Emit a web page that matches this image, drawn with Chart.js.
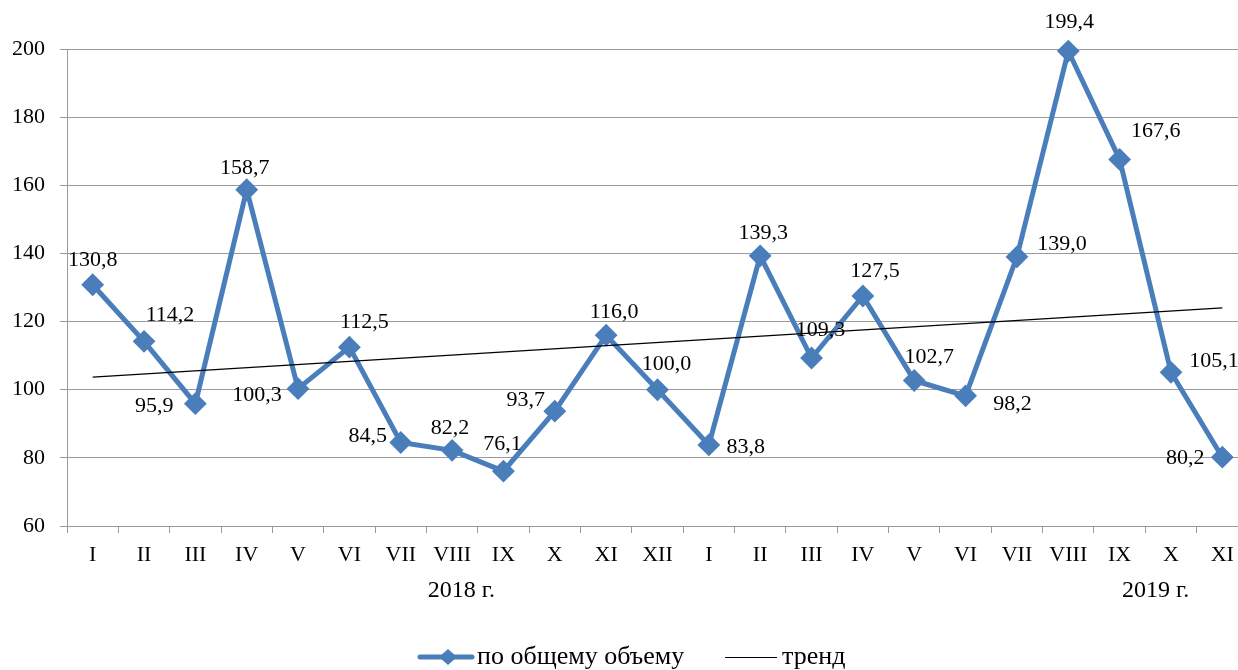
<!DOCTYPE html>
<html>
<head>
<meta charset="utf-8">
<script src="https://cdn.jsdelivr.net/npm/chart.js@4.4.1/dist/chart.umd.min.js"></script>
<style>
  html, body { margin: 0; padding: 0; background: #fff; overflow: hidden; width: 1238px; height: 670px; }
  canvas { display: block; position: absolute; left: 0; top: 0; }
</style>
</head>
<body>
<canvas id="c" width="1260" height="670"></canvas>
<script>
// ---- data ----
const categories = ['I','II','III','IV','V','VI','VII','VIII','IX','X','XI','XII',
                    'I','II','III','IV','V','VI','VII','VIII','IX','X','XI'];
const totalVolume = [130.8, 114.2, 95.9, 158.7, 100.3, 112.5, 84.5, 82.2, 76.1, 93.7, 116.0, 100.0,
                     83.8, 139.3, 109.3, 127.5, 102.7, 98.2, 139.0, 199.4, 167.6, 105.1, 80.2];
const trendEnds = [103.7, 124.0];           // trend value at first and last month
const yTicks = [60, 80, 100, 120, 140, 160, 180, 200];
const yearLabels = ['2018 г.', '2019 г.'];
const seriesNames = ['по общему объему', 'тренд'];

// ---- styling (label offsets in px, year label positions in category units) ----
const labelOffsets = [
  [0,-25],[26,-26],[-41,3],[-2,-21],[-41,7],[15,-25],[-33,-6],[-2,-22],[-1,-27],[-29,-11],[8,-23],[9,-25],
  [37,2],[3,-23],[9,-28],[12,-25],[15,-23],[47,8],[45,-13],[1,-29],[36,-28],[43,-11],[-37,1]
];
const yearLabelPos = [7.18, 20.7];

const FONT = "'Liberation Serif', 'Times New Roman', serif";
const BLUE = '#4A7EBB';
const GRID = '#9a9a9a';

const trendData = categories.map((_, i) => i === 0 ? trendEnds[0] : (i === categories.length - 1 ? trendEnds[1] : null));

const labelsPlugin = {
  id: 'valueLabels',
  afterDatasetsDraw(chart) {
    const ctx = chart.ctx;
    const meta = chart.getDatasetMeta(0);
    ctx.save();
    ctx.font = '22px ' + FONT;
    ctx.fillStyle = '#000';
    ctx.textAlign = 'center';
    ctx.textBaseline = 'middle';
    meta.data.forEach((pt, i) => {
      const txt = totalVolume[i].toFixed(1).replace('.', ',');
      ctx.fillText(txt, pt.x + labelOffsets[i][0], pt.y + labelOffsets[i][1]);
    });
    ctx.restore();
  }
};

const extrasPlugin = {
  id: 'extras',
  afterDraw(chart) {
    const ctx = chart.ctx;
    const xs = chart.scales.x;
    ctx.save();
    ctx.font = '24px ' + FONT;
    ctx.fillStyle = '#000';
    ctx.textAlign = 'center';
    ctx.textBaseline = 'middle';
    yearLabels.forEach((t, k) => {
      ctx.fillText(t, xs.getPixelForValue(yearLabelPos[k]), 591);
    });
    // legend
    const ly = 657;
    ctx.strokeStyle = BLUE; ctx.lineWidth = 5; ctx.lineCap = 'round';
    ctx.beginPath(); ctx.moveTo(420, ly); ctx.lineTo(472, ly); ctx.stroke();
    ctx.fillStyle = BLUE;
    ctx.beginPath();
    ctx.moveTo(448, ly - 8); ctx.lineTo(457, ly); ctx.lineTo(448, ly + 8); ctx.lineTo(439, ly);
    ctx.closePath(); ctx.fill();
    ctx.fillStyle = '#000';
    ctx.textAlign = 'left';
    ctx.font = '26px ' + FONT;
    ctx.fillText(seriesNames[0], 477, ly);
    ctx.strokeStyle = '#000'; ctx.lineWidth = 1; ctx.lineCap = 'butt';
    ctx.beginPath(); ctx.moveTo(725, ly + 0.5); ctx.lineTo(777, ly + 0.5); ctx.stroke();
    ctx.fillText(seriesNames[1], 782, ly);
    ctx.restore();
  }
};

new Chart(document.getElementById('c'), {
  type: 'line',
  data: {
    labels: categories,
    datasets: [
      {
        label: seriesNames[0],
        data: totalVolume,
        borderColor: BLUE,
        backgroundColor: BLUE,
        borderWidth: 5,
        pointStyle: 'rectRot',
        pointRadius: 10,
        pointBorderWidth: 2,
        pointBackgroundColor: BLUE,
        pointBorderColor: BLUE,
        tension: 0,
        clip: false,
        order: 2
      },
      {
        label: seriesNames[1],
        data: trendData,
        borderColor: '#000',
        borderWidth: 1.2,
        pointRadius: 0,
        spanGaps: true,
        clip: false,
        order: 1
      }
    ]
  },
  options: {
    responsive: false,
    animation: false,
    devicePixelRatio: 1,
    layout: { padding: { top: 49, right: 1.6, left: 0, bottom: 0 } },
    plugins: { legend: { display: false }, tooltip: { enabled: false } },
    scales: {
      x: {
        offset: true,
        afterFit(s) { s.height = 144; },
        grid: { offset: true, drawOnChartArea: false, drawTicks: true, tickLength: 7, color: GRID, lineWidth: 1 },
        border: { color: GRID, width: 1 },
        ticks: { font: { family: FONT, size: 22 }, color: '#000', padding: 9, maxRotation: 0, autoSkip: false }
      },
      y: {
        min: 60, max: 200,
        afterFit(s) { s.width = 67; },
        afterBuildTicks(s) { s.ticks = yTicks.map(v => ({ value: v })); },
        grid: { color: GRID, lineWidth: 1, tickLength: 7 },
        border: { color: GRID, width: 1 },
        ticks: { font: { family: FONT, size: 22 }, color: '#000', padding: 15 }
      }
    }
  },
  plugins: [labelsPlugin, extrasPlugin]
});
</script>
</body>
</html>
